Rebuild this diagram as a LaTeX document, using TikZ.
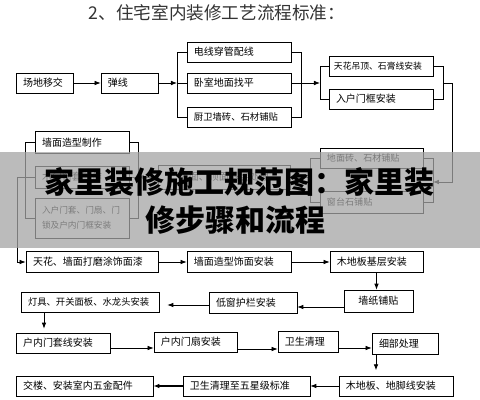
\documentclass[tikz,border=0pt]{standalone}
\usepackage{fontspec}
\setmainfont{Noto Sans CJK SC}
\usetikzlibrary{arrows.meta}
\begin{document}
\begin{tikzpicture}[x=0.75pt,y=-0.75pt,
  box/.style={draw=black,line width=0.6pt,minimum height=15pt,inner ysep=0pt,inner xsep=5.25pt,align=left,font=\fontsize{7.5}{9}\selectfont},
  arr/.style={-{Latex[length=4.5pt,width=3.5pt]},line width=0.6pt},
  ln/.style={line width=0.6pt},
  banner/.style={font=\fontsize{22.5}{27}\selectfont\bfseries,inner sep=0pt}]
\fill[white] (0,0) rectangle (480,400);
\useasboundingbox (0,0) rectangle (480,400);
% title
\node[text=black!80,font=\fontsize{13.2}{15}\selectfont] (title) at (217,13) {2、住宅室内装修工艺流程标准：};
% row 1
\node[box,text width=32.25pt] (a1) at (44.5,83) {场地移交};
\node[box,text width=32.25pt] (a2) at (129.5,83) {弹线};
\node[box,text width=67.5pt] (b1) at (239,52) {电线穿管配线};
\node[box,text width=67.5pt] (b2) at (239,83) {卧室地面找平};
\node[box,text width=67.5pt,font=\fontsize{7}{8}\selectfont] (b3) at (239,117) {厨卫墙砖、石材铺贴};
\node[box,text width=70.5pt,inner xsep=3.75pt,font=\fontsize{6.6}{8}\selectfont] (c1) at (381,66) {天花吊顶、石膏线安装};
\node[box,text width=67.5pt] (c2) at (381,99) {入户门框安装};
\coordinate (bl) at (177,83);
\coordinate (br) at (301,83);
\coordinate (cl) at (320,83);
\coordinate (cr) at (443,83);
\coordinate (turn) at (452,83);
\draw[arr] (a1) -- (a2);
\draw[arr] (a2.east) -- (bl);
\draw[ln] (b1.west) -- (b1.west -| bl) -- (b3.west -| bl) -- (b3.west);
\draw[ln] (bl) -- (b2.west);
\draw[ln] (b1.east) -- (b1.east -| br) -- (b3.east -| br) -- (b3.east);
\draw[ln] (b2.east) -- (br);
\draw[arr] (br) -- (cl);
\draw[ln] (c1.west) -- (c1.west -| cl) -- (c2.west -| cl) -- (c2.west);
\draw[ln] (c1.east) -- (c1.east -| cr) -- (c2.east -| cr) -- (c2.east);
% row 2 (under banner)
\node[box,text width=66.75pt,font=\fontsize{6.8}{8}\selectfont] (d1) at (371.5,158.5) {地面砖、石材铺贴};
\node[box,text width=66.75pt,minimum height=16.5pt,font=\fontsize{6.8}{8}\selectfont] (d2) at (371.5,202) {窗台石铺贴};
\coordinate (dl) at (310,177);
\coordinate (dr) at (433,182);
\draw[arr] (cr) -- (turn) |- (dr);
\draw[ln] (d1.west) -- (d1.west -| dl) -- (d2.west -| dl) -- (d2.west);
\draw[ln] (d1.east) -- (d1.east -| dr) -- (d2.east -| dr) -- (d2.east);
\node[box,text width=88.5pt,minimum height=18pt,align=center] (m) at (224,177) {墙面、顶面基层处理};
\node[box,text width=60pt,minimum height=16pt] (e1) at (82,142.5) {墙面造型制作};
\node[box,text width=60pt,minimum height=16.5pt] (e2) at (82,177) {木门窗套制作};
\node[box,text width=60pt,minimum height=30pt,font=\fontsize{6.5}{11}\selectfont] (e3) at (82,218) {入户门套、门扇、门\\锁及户内门框安装};
\coordinate (el) at (25,177);
\coordinate (er) at (138,177);
\coordinate (lx) at (17,177);
\draw[arr] (dl) -- (m.east);
\draw[arr] (m.west) -- (er);
\draw[ln] (e1.west) -- (e1.west -| el) -- (e3.west -| el) -- (e3.west);
\draw[ln] (el) -- (e2.west);
\draw[ln] (e1.east) -- (e1.east -| er) -- (e3.east -| er) -- (e3.east);
\draw[ln] (e2.east) -- (er);
% row 3
\node[box,text width=88.5pt,minimum height=15.75pt] (f1) at (92,262) {天花、墙面打磨涂饰面漆};
\node[box,text width=67.5pt,minimum height=15.75pt] (f2) at (239,262) {墙面造型饰面安装};
\node[box,text width=59.25pt,minimum height=15.75pt] (f3) at (376.5,262) {木地板基层安装};
\draw[arr] (el) -- (lx) |- (f1.west);
\draw[arr] (f1) -- (f2);
\draw[arr] (f2) -- (f3);
% row 4
\node[box,text width=41.25pt,minimum height=16.5pt,align=center] (g1) at (378.5,301) {墙纸铺贴};
\node[box,text width=55.5pt,minimum height=15.75pt] (g2) at (253,302.5) {低窗护栏安装};
\node[box,text width=93pt,font=\fontsize{7}{8}\selectfont] (g3) at (90,302) {灯具、开关面板、水龙头安装};
\draw[arr] (f3.south) -- (f3.south |- g1.north);
\draw[arr] (g1.west |- 0,307) -- (g2.east |- 0,307);
\draw[arr,shorten >=6pt] (g2.west |- 0,305) -- (g3.east |- 0,305);
% row 5
\node[box,text width=60pt] (h1) at (63,343) {户内门套线安装};
\node[box,text width=51.75pt] (h2) at (195.5,342) {户内门扇安装};
\node[box,text width=34.5pt,minimum height=15.75pt] (h3) at (308,341.5) {卫生清理};
\node[box,text width=39pt,minimum height=15.75pt] (h4) at (405,343.5) {细部处理};
\draw[arr,shorten >=3pt] (g3.south -| 44,0) -- (h1.north -| 44,0);
\draw[arr] (h1.east |- 0,348) -- (h2.west |- 0,348);
\draw[arr] (h2.east |- 0,349) -- (h3.west |- 0,349);
\draw[arr] (h3.east |- 0,348) -- (h4.west |- 0,348);
% row 6
\node[box,text width=75pt] (i1) at (396,386) {木地板、地脚线安装};
\node[box,text width=84.75pt] (i2) at (246.5,386) {卫生清理至五星级标准};
\node[box,text width=92.25pt] (i3) at (84.5,386) {交楼、安装室内五金配件};
\draw[arr,shorten >=4pt] (h4.south -| 376,0) -- (i1.north -| 376,0);
\draw[arr] (i1) -- (i2);
\draw[arr,line width=1pt] (i2) -- (i3);
% banner
\fill[fill={rgb,255:red,165;green,165;blue,165},opacity=0.75] (0,152) rectangle (480,248);
\node[banner] (t1) at (240,182) {家里装修施工规范图：家里装};
\node[banner] (t2) at (236,220) {修步骤和流程};
\end{tikzpicture}
\end{document}
